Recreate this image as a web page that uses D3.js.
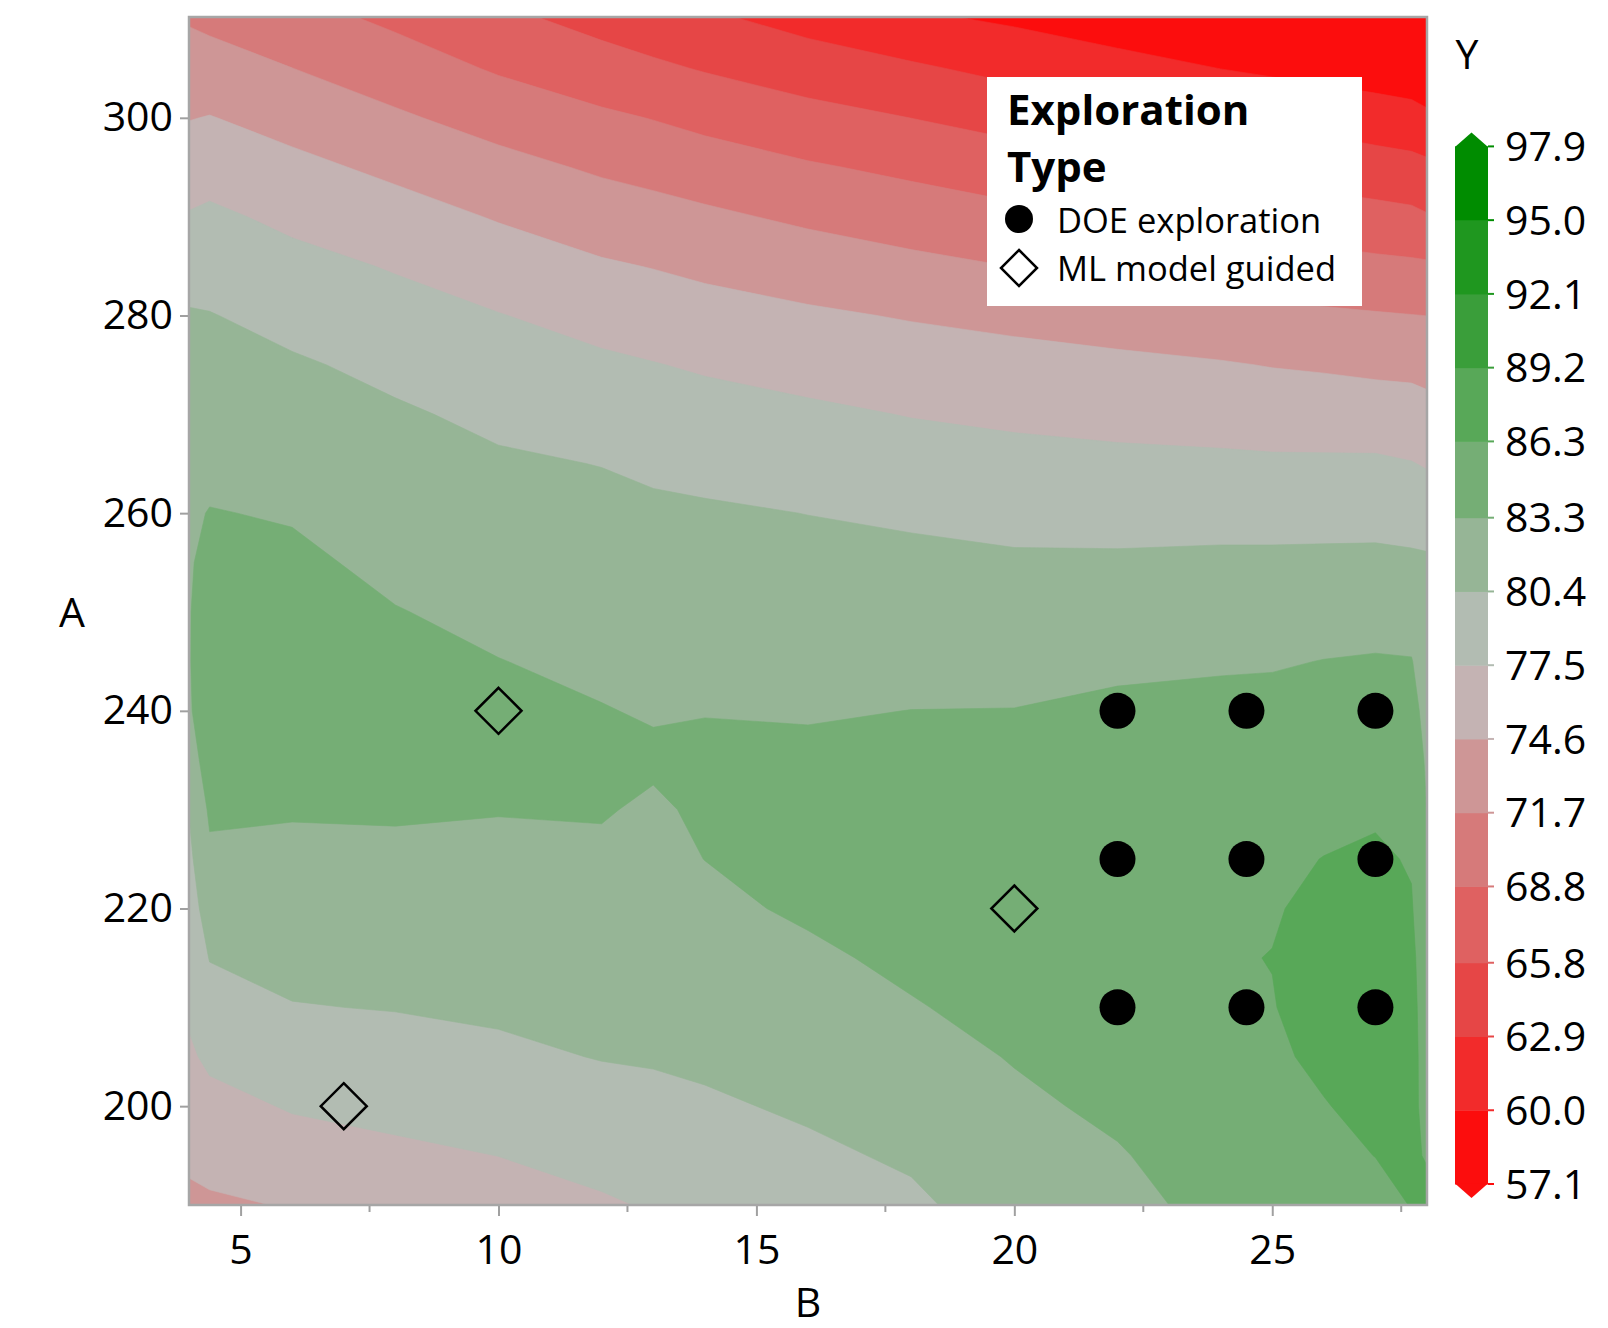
<!DOCTYPE html>
<html>
<head>
<meta charset="utf-8">
<script src="https://cdn.jsdelivr.net/npm/d3@7"></script>
<style>
  html, body { margin: 0; padding: 0; background: #fff; }
  svg { display: block; }
  text { font-family: "Open Sans", "Noto Sans", sans-serif; fill: #000; }
</style>
</head>
<body>
<svg id="chart" width="1608" height="1328"></svg>
<script>
// Response surface of Y over the B x A design space, sampled on a grid.
// Columns are B positions, rows are A positions (top edge first).
const gridB = [4, 4.4, 6, 8, 10, 12, 13, 14, 16, 18, 20, 22, 24, 25, 26, 27, 27.7, 28];
const gridA = [310.2, 305, 300, 295, 290, 285, 280, 275, 270, 265, 260, 255, 250,
               245, 240, 235, 230, 225, 220, 215, 210, 205, 200, 195, 190];
const gridY = [
  [71.4, 71.0, 69.8, 68.2, 66.4, 64.8, 64.0, 63.3, 61.9, 60.4, 59.5, 58.3, 57.0, 56.5, 56.0, 55.7, 55.4, 55.2],
  [73.0, 72.9, 71.72, 70.2, 68.5, 67.0, 66.3, 65.6, 64.3, 63.3, 62.1, 61.1, 59.97, 59.5, 59.0, 58.6, 58.3, 58.0],
  [74.5, 74.7, 73.6, 72.1, 70.6, 69.3, 68.7, 68.0, 66.8, 65.78, 64.7, 63.8, 62.95, 62.4, 62.0, 61.4, 61.0, 60.5],
  [76.1, 76.4, 75.3, 74.0, 72.6, 71.3, 70.8, 70.2, 69.1, 68.2, 67.2, 66.3, 65.4, 64.9, 64.5, 64.1, 63.8, 63.5],
  [77.7, 78.0, 76.9, 75.7, 74.4, 73.2, 72.7, 72.2, 71.2, 70.3, 69.5, 68.9, 68.1, 67.6, 67.1, 66.7, 66.4, 66.0],
  [79.4, 79.3, 78.3, 77.3, 76.0, 74.9, 74.5, 74.0, 73.2, 72.4, 71.65, 71.1, 70.5, 70.2, 69.9, 69.5, 69.3, 69.2],
  [80.6, 80.5, 79.6, 78.5, 77.6, 76.5, 76.1, 75.7, 75.0, 74.4, 73.85, 73.3, 72.7, 72.4, 72.1, 71.9, 71.75, 71.68],
  [81.1, 81.2, 80.7, 79.8, 78.7, 78.0, 77.6, 77.2, 76.5, 76.0, 75.6, 75.2, 74.8, 74.5, 74.3, 74.0, 73.9, 73.7],
  [81.6, 81.8, 81.5, 80.7, 79.9, 79.2, 78.8, 78.5, 78.0, 77.4, 77.0, 76.7, 76.4, 76.2, 76.1, 76.0, 75.8, 75.5],
  [82.1, 82.6, 82.3, 81.4, 80.7, 80.35, 80.0, 79.7, 79.2, 78.7, 78.35, 78.1, 78.0, 77.9, 77.9, 77.9, 77.6, 77.3],
  [82.9, 83.4, 83.1, 82.0, 81.4, 81.0, 80.8, 80.7, 80.37, 80.0, 79.6, 79.5, 79.5, 79.5, 79.5, 79.5, 79.2, 79.0],
  [83.1, 83.9, 83.8, 82.7, 82.0, 81.6, 81.4, 81.3, 81.1, 81.0, 80.75, 80.75, 80.9, 80.9, 80.95, 81.0, 80.9, 80.8],
  [83.2, 84.2, 84.3, 83.4, 82.7, 82.2, 82.0, 81.9, 81.7, 81.8, 81.7, 81.8, 82.0, 82.0, 82.2, 82.3, 82.3, 81.6],
  [83.2, 84.4, 84.7, 84.2, 83.35, 82.8, 82.5, 82.5, 82.4, 82.5, 82.5, 82.8, 83.05, 83.1, 83.35, 83.5, 83.4, 82.1],
  [83.1, 84.4, 84.8, 84.8, 84.3, 83.4, 83.1, 83.2, 83.1, 83.32, 83.35, 83.8, 83.9, 84.0, 84.1, 84.2, 84.1, 82.5],
  [82.4, 84.2, 84.6, 84.9, 84.6, 84.0, 83.7, 83.9, 83.8, 84.0, 84.0, 84.5, 84.6, 84.8, 84.85, 85.1, 84.9, 82.9],
  [80.5, 83.7, 83.5, 83.6, 83.4, 83.5, 82.9, 83.75, 84.3, 84.6, 84.6, 85.0, 85.1, 85.4, 85.6, 85.95, 85.6, 83.25],
  [79.8, 82.8, 82.7, 82.7, 82.7, 82.8, 82.7, 83.32, 84.4, 84.8, 85.0, 85.4, 85.6, 85.8, 86.35, 86.7, 86.1, 83.7],
  [79.2, 81.6, 81.9, 82.0, 82.1, 82.2, 82.2, 82.7, 83.7, 84.5, 85.0, 85.6, 85.9, 86.1, 86.9, 87.3, 86.5, 84.2],
  [78.5, 80.5, 81.1, 81.3, 81.4, 81.6, 81.6, 82.1, 82.8, 83.9, 84.7, 85.5, 86.1, 86.35, 87.3, 87.7, 86.9, 84.7],
  [77.9, 79.3, 80.3, 80.5, 80.8, 81.1, 81.1, 81.4, 82.1, 83.1, 84.2, 85.2, 86.0, 86.2, 87.3, 87.8, 87.0, 85.1],
  [77.1, 78.0, 79.1, 79.4, 79.9, 80.5, 80.6, 80.8, 81.4, 82.3, 83.45, 84.6, 85.7, 85.9, 86.8, 87.5, 86.9, 85.5],
  [76.1, 76.7, 77.7, 78.2, 78.7, 79.4, 79.8, 80.1, 80.7, 81.5, 82.8, 83.8, 85.2, 85.5, 86.18, 87.0, 86.7, 85.8],
  [75.1, 75.5, 76.4, 77.0, 77.52, 78.3, 78.9, 79.3, 80.0, 80.7, 82.2, 83.1, 84.6, 85.0, 85.9, 86.32, 86.5, 86.2],
  [74.0, 74.2, 74.75, 75.7, 76.3, 77.2, 77.7, 78.5, 79.3, 80.0, 81.5, 82.6, 84.0, 84.5, 85.6, 85.8, 86.35, 86.7]
];

// Contour levels of Y (colour bar ticks) and the fill of each band.
const levelTicks = [57.1, 60.0, 62.9, 65.8, 68.8, 71.7, 74.6, 77.5, 80.4, 83.3, 86.3, 89.2, 92.1, 95.0, 97.9];
const bandColors = ["#fc0d0d", "#f22b2b", "#e64646", "#df6161", "#d67a7a", "#ce9696", "#c4b3b3",
                    "#b2bcb2", "#96b596", "#75ae75", "#58a858", "#3a9e3a", "#1f971f", "#008c00"];

// Experimental runs.
const doeB = [22, 24.5, 27, 22, 24.5, 27, 22, 24.5, 27];
const doeA = [240, 240, 240, 225, 225, 225, 210, 210, 210];
const mlB = [10, 20, 7];
const mlA = [240, 220, 200];

const xTicks = [5, 10, 15, 20, 25];
const xMinorTicks = [7.5, 12.5, 17.5, 22.5, 27.5];
const yTicks = [200, 220, 240, 260, 280, 300];

const svg = d3.select("#chart");
const plot = { left: 189, right: 1427, top: 17, bottom: 1205 };

const x = d3.scaleLinear().domain([4, 28]).range([plot.left, plot.right]);
const y = d3.scaleLinear().domain([190, 310.2]).range([plot.bottom, plot.top]);

// ---- filled contours ----
const nx = gridB.length, ny = gridA.length;
const values = gridY.flat();
const fillLevels = [0].concat(levelTicks.slice(1, 14)); // 0, 60.0 ... 95.0
const contours = d3.contours().size([nx, ny]).smooth(true).thresholds(fillLevels)(values);

const colToB = d3.scaleLinear().domain(d3.range(nx)).range(gridB);
const rowToA = d3.scaleLinear().domain(d3.range(ny)).range(gridA);
const toIndex = (v, n) => Math.max(0, Math.min(n - 1, v - 0.5));
const gridProjection = d3.geoTransform({
  point(px, py) {
    this.stream.point(x(colToB(toIndex(px, nx))), y(rowToA(toIndex(py, ny))));
  }
});
const contourPath = d3.geoPath(gridProjection);

svg.append("g")
  .selectAll("path")
  .data(contours)
  .join("path")
  .attr("d", contourPath)
  .attr("fill", (d, i) => bandColors[i])
  .attr("stroke", (d, i) => bandColors[i])
  .attr("stroke-width", 0.6);

// ---- frame ----
svg.append("rect")
  .attr("x", plot.left).attr("y", plot.top)
  .attr("width", plot.right - plot.left).attr("height", plot.bottom - plot.top)
  .attr("fill", "none").attr("stroke", "#a6a6a6").attr("stroke-width", 2.5);

// ---- axes ----
const tickColor = "#a0a0a0";
const yAxis = svg.append("g")
  .attr("transform", `translate(${plot.left - 1},0)`)
  .call(d3.axisLeft(y).tickValues(yTicks).tickSize(8).tickPadding(7).tickFormat(d3.format("d")));
yAxis.select(".domain").remove();
yAxis.selectAll(".tick line").attr("stroke", tickColor).attr("stroke-width", 2);
yAxis.selectAll(".tick text").style("font-size", "41px").style("font-family", '"Open Sans", sans-serif').attr("fill", "#000");

const xAxis = svg.append("g")
  .attr("transform", `translate(0,${plot.bottom + 1})`)
  .call(d3.axisBottom(x).tickValues(xTicks).tickSize(10).tickPadding(19).tickFormat(d3.format("d")));
xAxis.select(".domain").remove();
xAxis.selectAll(".tick line").attr("stroke", tickColor).attr("stroke-width", 2);
xAxis.selectAll(".tick text").style("font-size", "41px").style("font-family", '"Open Sans", sans-serif').attr("fill", "#000");

svg.append("g")
  .selectAll("line")
  .data(xMinorTicks)
  .join("line")
  .attr("x1", d => x(d)).attr("x2", d => x(d))
  .attr("y1", plot.bottom + 1).attr("y2", plot.bottom + 7)
  .attr("stroke", tickColor).attr("stroke-width", 2);

svg.append("text").attr("x", 72).attr("y", 627).attr("text-anchor", "middle")
  .style("font-size", "41px").text("A");
svg.append("text").attr("x", (plot.left + plot.right) / 2).attr("y", 1317).attr("text-anchor", "middle")
  .style("font-size", "41px").text("B");

// ---- points ----
const doe = doeB.map((b, i) => ({ b, a: doeA[i] }));
const ml = mlB.map((b, i) => ({ b, a: mlA[i] }));
const diamond = (cx, cy, r) => `M${cx},${cy - r}L${cx + r},${cy}L${cx},${cy + r}L${cx - r},${cy}Z`;

svg.append("g").selectAll("circle").data(doe).join("circle")
  .attr("cx", d => x(d.b)).attr("cy", d => y(d.a)).attr("r", 18).attr("fill", "#000");
svg.append("g").selectAll("path").data(ml).join("path")
  .attr("d", d => diamond(x(d.b), y(d.a), 23))
  .attr("fill", "none").attr("stroke", "#000").attr("stroke-width", 2.5).attr("stroke-linejoin", "miter");

// ---- legend ----
const lg = svg.append("g");
lg.append("rect").attr("x", 987).attr("y", 77).attr("width", 375).attr("height", 229).attr("fill", "#fff");
lg.append("text").attr("x", 1007).attr("y", 125).style("font-size", "42px").style("font-weight", "700").text("Exploration");
lg.append("text").attr("x", 1007).attr("y", 182).style("font-size", "42px").style("font-weight", "700").text("Type");
lg.append("circle").attr("cx", 1019).attr("cy", 219).attr("r", 14).attr("fill", "#000");
lg.append("text").attr("x", 1057).attr("y", 233).style("font-size", "34.5px").text("DOE exploration");
lg.append("path").attr("d", diamond(1019, 268, 18)).attr("fill", "none").attr("stroke", "#000").attr("stroke-width", 2.5);
lg.append("text").attr("x", 1057).attr("y", 281).style("font-size", "34.5px").text("ML model guided");

// ---- colour bar ----
const cb = { x: 1455, w: 33 };
const cy = d3.scaleLinear().domain([57.1, 97.9]).range([1184, 146.4]);
const cbg = svg.append("g");
cbg.selectAll("rect").data(d3.range(levelTicks.length - 1)).join("rect")
  .attr("x", cb.x).attr("width", cb.w)
  .attr("y", k => cy(levelTicks[k + 1]))
  .attr("height", k => cy(levelTicks[k]) - cy(levelTicks[k + 1]) + 0.5)
  .attr("fill", k => bandColors[k]);
const topY = cy(97.9), botY = cy(57.1);
cbg.append("path")
  .attr("d", `M${cb.x},${topY + 0.5}L${cb.x + cb.w / 2},${topY - 14}L${cb.x + cb.w},${topY + 0.5}Z`)
  .attr("fill", bandColors[bandColors.length - 1]);
cbg.append("path")
  .attr("d", `M${cb.x},${botY - 0.5}L${cb.x + cb.w / 2},${botY + 14}L${cb.x + cb.w},${botY - 0.5}Z`)
  .attr("fill", bandColors[0]);
cbg.selectAll("line").data(levelTicks).join("line")
  .attr("x1", cb.x + cb.w).attr("x2", cb.x + cb.w + 6)
  .attr("y1", d => cy(d)).attr("y2", d => cy(d))
  .attr("stroke", (d, i) => bandColors[Math.min(i, bandColors.length - 1)]).attr("stroke-width", 2);
cbg.selectAll("text").data(levelTicks).join("text")
  .attr("x", 1505).attr("y", d => cy(d)).attr("dy", "0.36em")
  .style("font-size", "41px").text(d => d3.format(".1f")(d));
svg.append("text").attr("x", 1467).attr("y", 69).attr("text-anchor", "middle")
  .style("font-size", "41px").text("Y");
</script>
</body>
</html>
